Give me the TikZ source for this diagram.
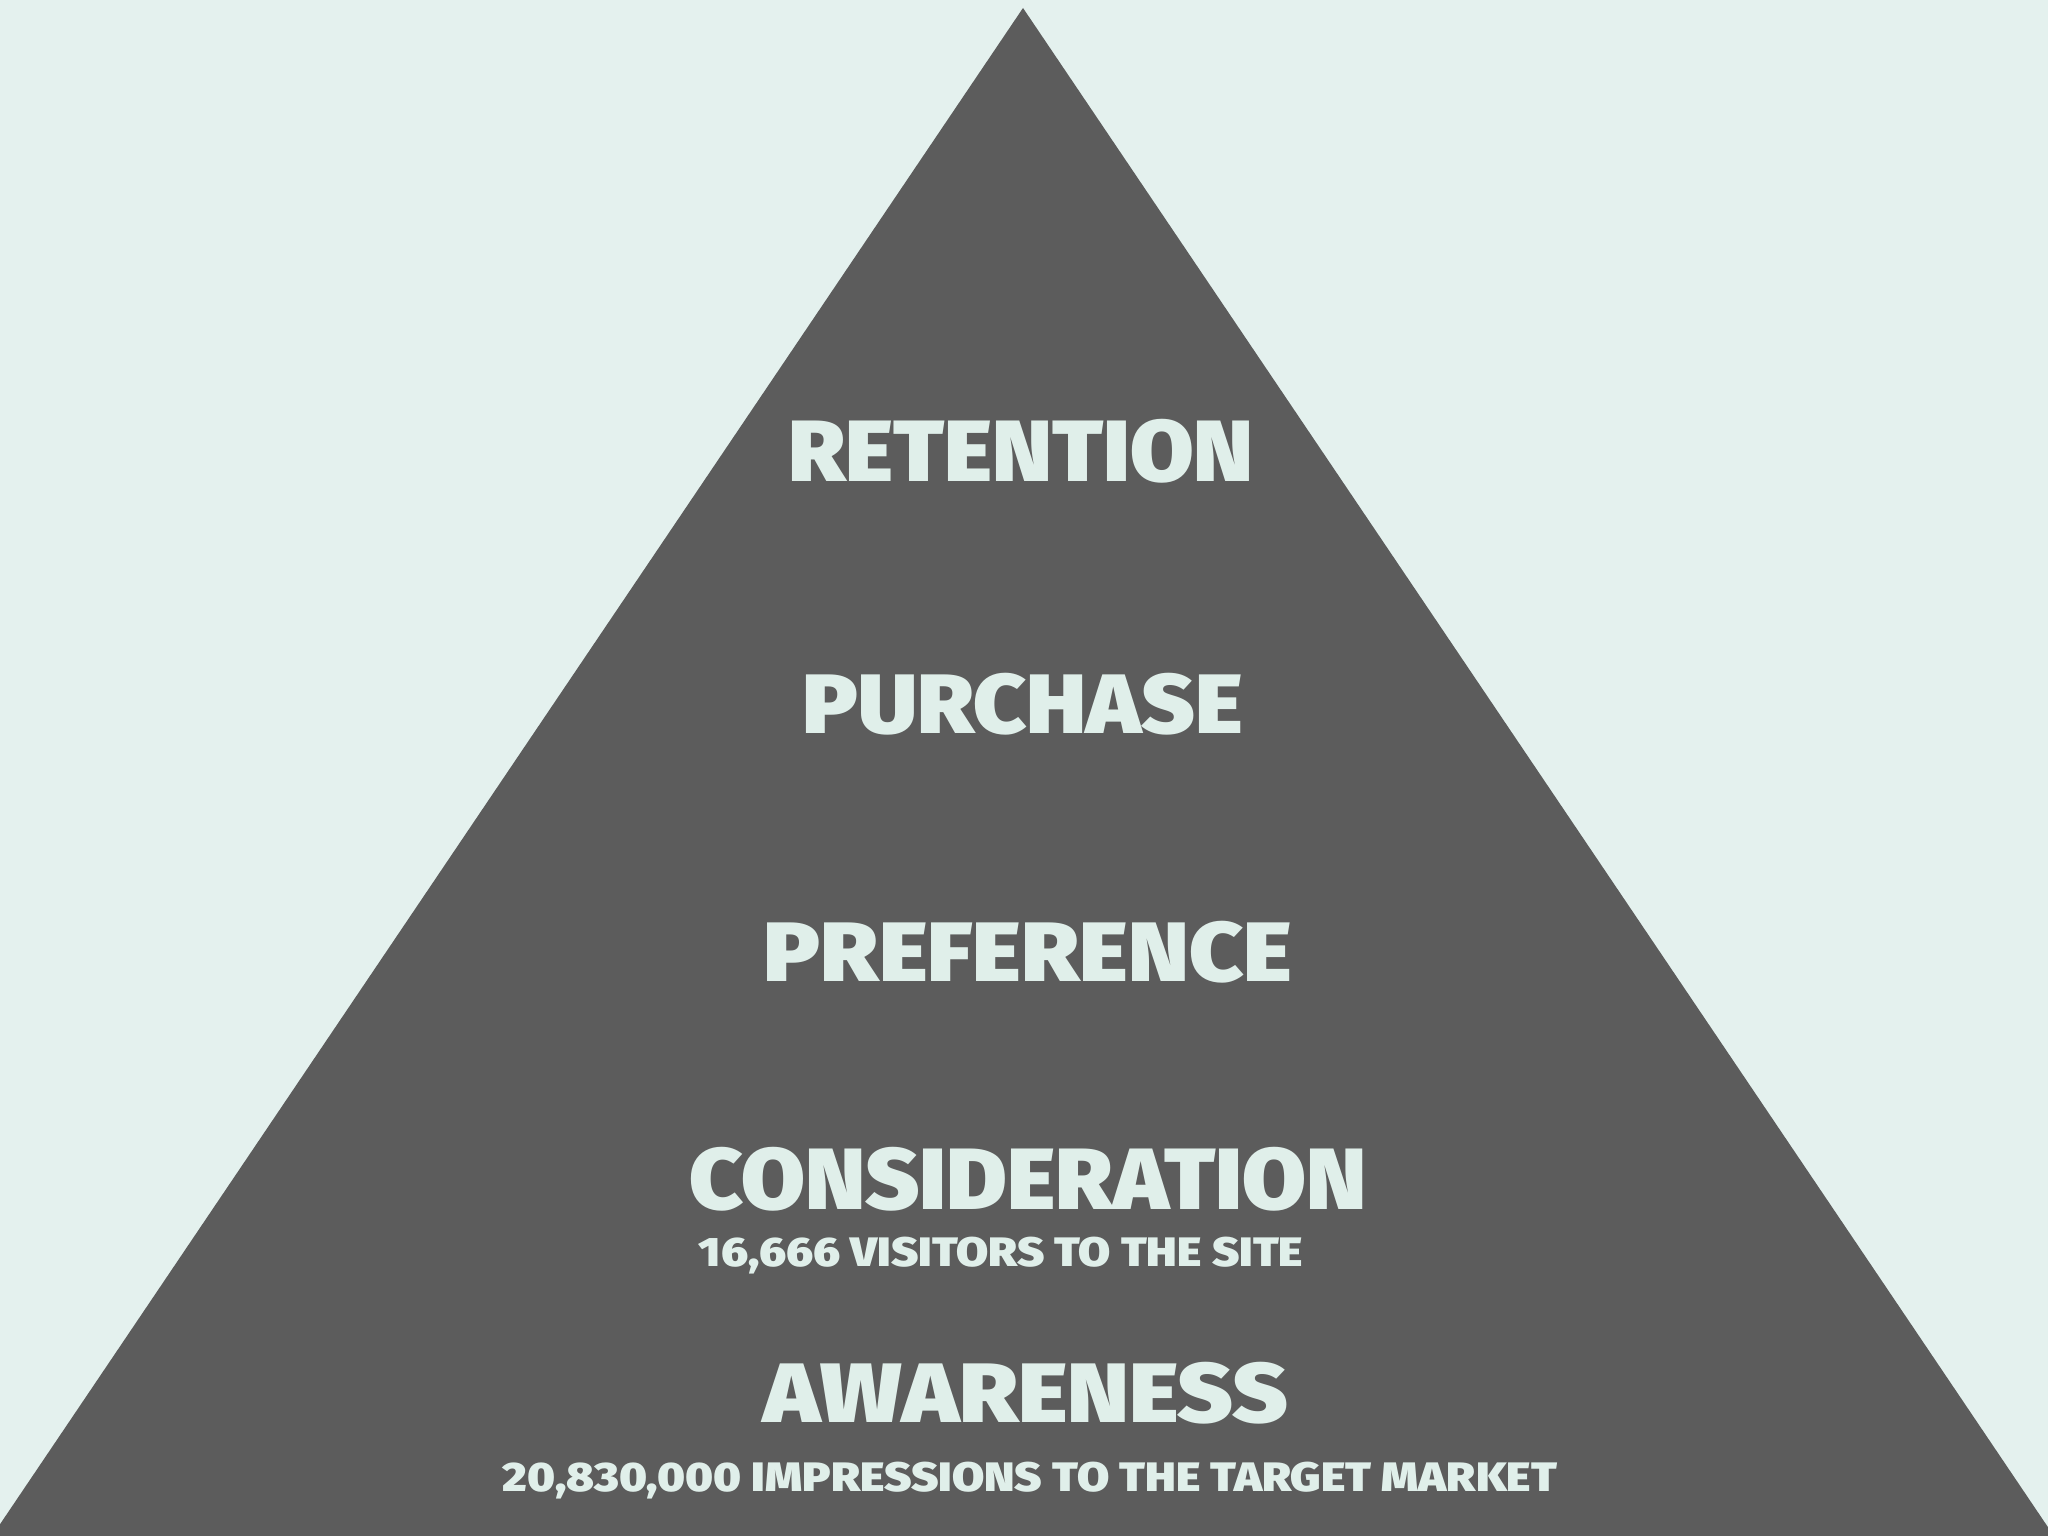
\documentclass[tikz,border=0pt]{standalone}
\usepackage{fontspec}
\setmainfont{Fira Sans}[BoldFont={Fira Sans Black}]
\usepackage{graphicx}
\definecolor{bgmint}{HTML}{E4F1EE}
\definecolor{pyr}{HTML}{5C5C5C}
\definecolor{txt}{HTML}{E0EFEA}
\newcommand{\lbl}[3]{\resizebox*{#1pt}{#2pt}{\bfseries #3}}
\tikzset{lab/.style={inner sep=0pt, text=txt, anchor=center}}
\begin{document}
\begin{tikzpicture}[x=1pt,y=-1pt]
\useasboundingbox (0,0) rectangle (2048,1536);
\fill[bgmint] (0,0) rectangle (2048,1536);
\fill[pyr] (1023,8) -- (2060,1545) -- (-14,1545) -- cycle;
\node[lab] (ret) at (1021,451) {\lbl{465}{64}{RETENTION}};
\node[lab] (pur) at (1023,704) {\lbl{440}{62}{PURCHASE}};
\node[lab] (pre) at (1028,952) {\lbl{528}{62}{PREFERENCE}};
\node[lab] (con) at (1028,1179) {\lbl{677}{64}{CONSIDERATION}};
\node[lab] (vis) at (1001,1256) {\lbl{604}{37}{16,666 VISITORS TO THE SITE}};
\node[lab] (awa) at (1026,1393) {\lbl{525}{62}{AWARENESS}};
\node[lab] (imp) at (1030,1481) {\lbl{1054}{37}{20,830,000 IMPRESSIONS TO THE TARGET MARKET}};
\end{tikzpicture}
\end{document}
